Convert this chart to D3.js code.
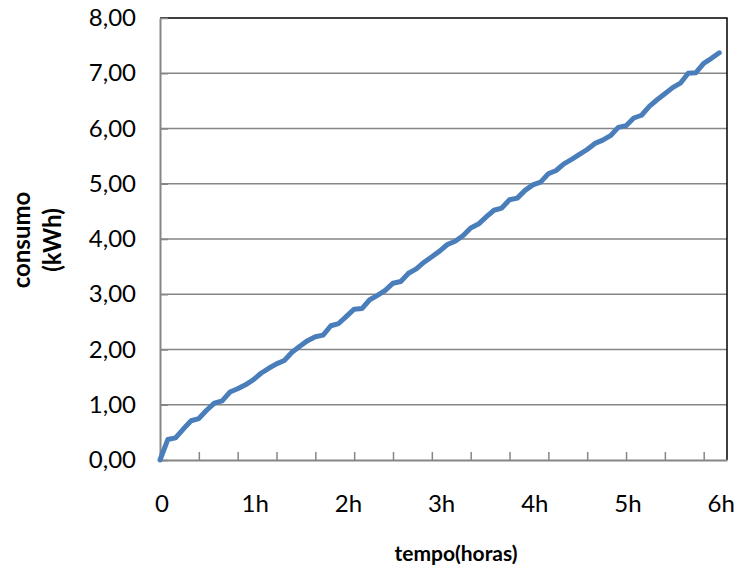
<!DOCTYPE html>
<html>
<head>
<meta charset="utf-8">
<script src="https://cdn.jsdelivr.net/npm/d3@7"></script>
<style>
  html, body { margin: 0; padding: 0; background: #fff; }
  text { font-family: Lato, "Open Sans", sans-serif; fill: #000; }
</style>
</head>
<body>
<svg id="chart" width="740" height="572"></svg>
<script>
// 5-minute readings, 0 .. 6h
const consumo = [
  0.00, 0.37, 0.40, 0.56, 0.71, 0.75, 0.90, 1.03, 1.07, 1.23,
  1.29, 1.36, 1.45, 1.57, 1.66, 1.74, 1.80, 1.95, 2.06, 2.16,
  2.23, 2.26, 2.43, 2.47, 2.60, 2.73, 2.74, 2.90, 2.98, 3.07,
  3.20, 3.23, 3.38, 3.46, 3.58, 3.68, 3.78, 3.90, 3.96, 4.06,
  4.20, 4.27, 4.40, 4.52, 4.56, 4.71, 4.74, 4.88, 4.98, 5.03,
  5.18, 5.24, 5.36, 5.44, 5.53, 5.62, 5.73, 5.79, 5.87, 6.02,
  6.05, 6.19, 6.24, 6.40, 6.52, 6.63, 6.74, 6.82, 7.00, 7.01,
  7.18, 7.27, 7.37
];
const xLabels = ["0", "1h", "2h", "3h", "4h", "5h", "6h"];
const xLabelIndex = [0, 12, 24, 36, 48, 60, 72];
const yTicks = [0, 1, 2, 3, 4, 5, 6, 7, 8];
const xTitle = "tempo(horas)";
const yTitle = ["consumo", "(kWh)"];

const svg = d3.select("#chart");
const L = 160, R = 727, T = 18, B = 460;

const x = d3.scaleLinear().domain([0, 73]).range([L, R]);
const y = d3.scaleLinear().domain([0, 8]).range([B, T]);

// gridlines
svg.append("g").selectAll("line").data(yTicks.filter(d => d > 0 && d < 8)).join("line")
  .attr("x1", L).attr("x2", R)
  .attr("y1", d => y(d)).attr("y2", d => y(d))
  .attr("stroke", "#868686").attr("stroke-width", 1.5);

// top & right border
svg.append("path")
  .attr("d", `M${L},${T}H${R}V${B}`)
  .attr("fill", "none").attr("stroke", "#000").attr("stroke-width", 1.5);

// y axis
const yAxis = d3.axisLeft(y).tickValues(yTicks).tickSizeInner(-8).tickSizeOuter(0)
  .tickFormat(d => d3.format(".2f")(d).replace(".", ","));
const gy = svg.append("g").attr("transform", `translate(${L},0)`).call(yAxis);
gy.select(".domain").attr("stroke", "#868686").attr("stroke-width", 2);
gy.selectAll(".tick line").attr("stroke", "#868686").attr("stroke-width", 1.5);
gy.selectAll(".tick text").attr("x", -24).attr("font-size", 24).attr("font-family", "Lato").attr("fill", "#000");

// x axis: minor ticks every 5 readings
const minorTicks = d3.range(0, 73, 5);
const xAxis = d3.axisBottom(x).tickValues(minorTicks).tickSizeInner(-8).tickSizeOuter(0).tickFormat("");
const gx = svg.append("g").attr("transform", `translate(0,${B})`).call(xAxis);
gx.select(".domain").attr("stroke", "#868686").attr("stroke-width", 2);
gx.selectAll(".tick line").attr("stroke", "#868686").attr("stroke-width", 1.5);

// x labels
svg.append("g").selectAll("text").data(xLabels).join("text")
  .attr("x", (d, i) => x(xLabelIndex[i]) + 2)
  .attr("y", 512)
  .attr("text-anchor", "middle")
  .attr("font-size", 24)
  .text(d => d);

// line
const line = d3.line().x((d, i) => x(i)).y(d => y(d));
svg.append("path").datum(consumo)
  .attr("d", line)
  .attr("fill", "none")
  .attr("stroke", "#4a7ebb")
  .attr("stroke-width", 5)
  .attr("stroke-linejoin", "round")
  .attr("stroke-linecap", "round");

// titles
svg.append("text").attr("x", 456).attr("y", 561).attr("text-anchor", "middle")
  .attr("font-size", 21).attr("font-weight", "bold").text(xTitle);

const yt = svg.append("text").attr("transform", "translate(0,240) rotate(-90)")
  .attr("text-anchor", "middle").attr("font-size", 24).attr("font-weight", "bold");
yt.append("tspan").attr("x", 0).attr("y", 30).text(yTitle[0]);
yt.append("tspan").attr("x", 0).attr("y", 61).text(yTitle[1]);
</script>
</body>
</html>
